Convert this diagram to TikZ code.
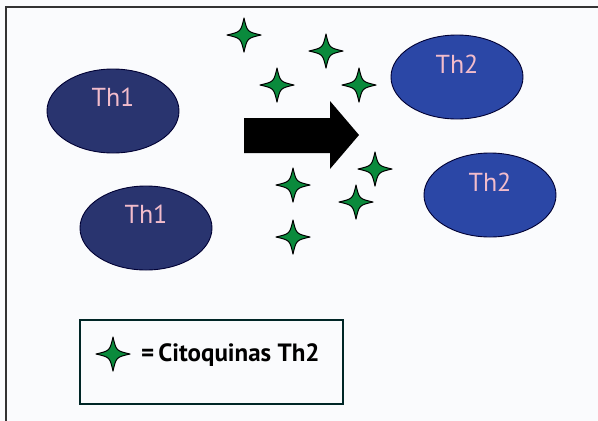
\documentclass[tikz,border=0pt]{standalone}
\usepackage{fontspec}
\setmainfont{PT Sans}
\usetikzlibrary{shapes.geometric}
\definecolor{bgc}{HTML}{FAFBFD}
\definecolor{thone}{HTML}{29346F}
\definecolor{thtwo}{HTML}{2B47A6}
\definecolor{txtpink}{HTML}{F2BCCB}
\definecolor{stargreen}{HTML}{0A8A3C}
\definecolor{framec}{HTML}{333333}
\tikzset{
  cell/.style={ellipse, draw=black!80!blue, line width=0.9pt, minimum width=132pt, minimum height=84pt, inner sep=0pt},
  celltext/.style={text=txtpink, font=\fontsize{26}{26}\selectfont, inner sep=0pt},
  starshape/.pic={
    \path[fill=stargreen, draw=black, line width=1pt, line join=round]
      (17,0) .. controls (3.2,3.2) .. (0,17) .. controls (-3.2,3.2) .. (-17,0)
      .. controls (-3.2,-3.2) .. (0,-17) .. controls (3.2,-3.2) .. cycle;
  }
}
\begin{document}
\begin{tikzpicture}[x=1pt, y=-1pt]
\fill[bgc] (0,0) rectangle (598,421);
\useasboundingbox (0,0) rectangle (598,421);
\draw[framec, line width=1.5pt] (6,421) -- (6,7) -- (598,7);
% cells
\node[cell, fill=thone] (a1) at (113,111) {};
\node[celltext] (a1t) at (113,97) {Th1};
\node[cell, fill=thone] (a2) at (146,228) {};
\node[celltext] (a2t) at (146,214) {Th1};
\node[cell, fill=thtwo] (b1) at (457,77) {};
\node[celltext] (b1t) at (457,64) {Th2};
\node[cell, fill=thtwo] (b2) at (490,195) {};
\node[celltext] (b2t) at (490,182) {Th2};
% arrow
\fill[black] (244,118) -- (330,118) -- (330,101) -- (359,135) -- (330,169) -- (330,153) -- (244,153) -- cycle;
% stars
\coordinate (s1) at (244,35);
\coordinate (s2) at (326,51);
\coordinate (s3) at (277,85);
\coordinate (s4) at (359,85);
\coordinate (s5) at (293,185);
\coordinate (s6) at (375,169);
\coordinate (s7) at (356,202);
\coordinate (s8) at (293,237);
\foreach \s in {s1,s2,s3,s4,s5,s6,s7,s8} \pic at (\s) {starshape};
% legend
\node[draw=black!70!teal, line width=1.2pt, minimum width=263pt, minimum height=84pt, inner sep=0pt] (leg) at (211.5,362) {};
\coordinate (ls) at (113,354);
\pic at (ls) {starshape};
\node[anchor=west, font=\bfseries\fontsize{25}{25}\selectfont, inner sep=0pt] (legt) at (141,355) {=\hspace{4pt}Citoquinas Th2};
\end{tikzpicture}
\end{document}
